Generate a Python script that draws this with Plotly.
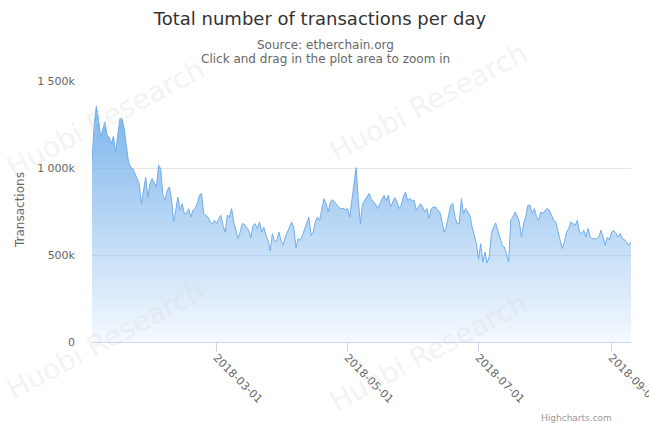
import pandas as pd
import plotly.graph_objects as go

# ---------------- data (daily transactions, thousands) ----------------
start_date = "2018-01-02"
seg_jan_feb = [1040, 1245, 1354, 1284, 1178, 1228, 1264, 1188, 1178, 1140, 1184, 1092, 1207,
               1284, 1284, 1226, 1130, 1034, 1006, 996, 968, 939, 910, 795, 862, 948, 833,
               910, 939, 910, 891, 1015, 996, 843, 814, 872, 891, 824, 690, 757, 833, 757,
               795, 738, 738, 767, 718, 757, 767, 795, 843, 853]
seg_feb_apr = [738, 728, 718, 690, 680, 699, 680, 709, 728, 670, 632, 728, 718, 767, 690, 642,
               594, 632, 680, 676, 661, 642, 600, 670, 680, 651, 690, 632, 661, 613, 584, 523,
               623, 579, 579, 632, 584, 556, 603, 632, 661, 690, 651, 542, 594, 584, 613, 651]
seg_apr_may = [680, 718, 613, 632, 690, 718, 699, 767, 824, 795, 747, 805, 818, 805, 786, 772,
               767, 767, 761, 767, 718, 814, 891, 1002, 814, 680, 795, 814, 833, 853, 824, 805,
               795, 767, 795, 824, 843, 814, 843, 776, 805, 830, 805, 767, 786, 833, 862, 814, 824]
seg_jun_jul = [814, 814, 757, 776, 795, 776, 747, 767, 709, 767, 776, 776, 757, 747, 690, 632,
               661, 718, 786, 795, 718, 680, 680, 824, 738, 767, 747, 728, 661, 613, 565, 474,
               565, 460, 517, 454, 489, 623, 661, 684, 642, 603, 556, 546, 498, 460, 699, 718, 747]
seg_jul_sep = [725, 690, 603, 680, 720, 786, 786, 738, 767, 720, 699, 747, 738, 757, 767, 757,
               730, 699, 690, 632, 584, 537, 575, 632, 652, 690, 680, 671, 699, 632, 623, 642,
               603, 652, 603, 594, 594, 594, 603, 642, 603, 556, 603, 588, 632, 640, 623, 603,
               623, 594, 588, 575, 556, 575]

values_k = seg_jan_feb + seg_feb_apr + seg_apr_may + seg_jun_jul + seg_jul_sep
values = [v * 1000 for v in values_k]
dates = pd.date_range(start_date, periods=len(values), freq="D")

x_tick_dates = ["2018-03-01", "2018-05-01", "2018-07-01", "2018-09-01"]
y_tick_vals = [0, 500000, 1000000, 1500000]
y_tick_text = ["0", "500k", "1 000k", "1 500k"]

title_text = "Total number of transactions per day"
subtitle_1 = "Source: etherchain.org"
subtitle_2 = "Click and drag in the plot area to zoom in"
y_title = "Transactions"
credits = "Highcharts.com"
watermark = "Huobi Research"

# ---------------- layout geometry ----------------
W, H = 649, 423
ML, MR, MT, MB = 92, 18, 81, 81
PW, PH = W - ML - MR, H - MT - MB
FONT = "DejaVu Sans"


def px(xp):
    return (xp - ML) / PW


def py(yp):
    return (H - MB - yp) / PH


fig = go.Figure()
fig.add_trace(go.Scatter(
    x=dates, y=values, mode="lines",
    line=dict(color="#72ade8", width=1),
    fill="tozeroy",
    fillgradient=dict(type="vertical",
                      colorscale=[[0, "rgba(124,181,236,0.08)"], [1, "rgba(124,181,236,1)"]],
                      start=0, stop=max(values)),
    hoverinfo="skip", showlegend=False,
))


def note(text, xp, yp, size, color, angle=0, xanchor="center", family=FONT):
    return dict(text=text, x=px(xp), y=py(yp), xref="paper", yref="paper",
                xanchor=xanchor, yanchor="middle", textangle=angle, showarrow=False,
                font=dict(family=family, size=size, color=color))


annotations = [note(watermark, cx, cy, 28, "rgba(215,215,215,0.3)", angle=-28)
               for cx, cy in [(105, 118), (428, 102), (105, 340), (428, 352)]]
annotations += [
    note(subtitle_1, 325, 45, 12, "#666666"),
    note(subtitle_2, 325, 59, 12, "#666666"),
    note(y_title, 20, 210, 12, "#666666", angle=-90),
    note(credits, 614, 418, 9, "#999999", xanchor="right"),
]

fig.update_layout(
    width=W, height=H, autosize=False,
    margin=dict(l=ML, r=MR, t=MT, b=MB, autoexpand=False),
    paper_bgcolor="white", plot_bgcolor="white",
    font=dict(family=FONT, color="#666666"),
    title=dict(text=title_text, x=0.493, xref="container", xanchor="center",
               y=1 - 19 / H, yref="container", yanchor="middle",
               font=dict(family=FONT, size=18, color="#333333")),
    annotations=annotations,
    xaxis=dict(
        type="date",
        range=[dates[0], dates[-1]],
        tickvals=x_tick_dates, tickformat="%Y-%m-%d", tickangle=45,
        tickfont=dict(family=FONT, size=11, color="#666666"),
        ticklabeloverflow="allow", automargin=False,
        ticklabelstandoff=-5,
        showgrid=False, zeroline=False,
        showline=True, linecolor="#ccd6eb", linewidth=1,
        ticks="outside", ticklen=9, tickcolor="#ccd6eb",
        fixedrange=True,
    ),
    yaxis=dict(
        range=[0, 1500000],
        tickvals=y_tick_vals, ticktext=y_tick_text,
        tickfont=dict(family=FONT, size=11, color="#666666"),
        showgrid=True, gridcolor="#e6e6e6", gridwidth=1,
        zeroline=False, showline=False, ticks="", automargin=False,
        ticklabelstandoff=16,
        fixedrange=True,
    ),
)

fig.write_html("out.html", config={"displayModeBar": False},
               post_script="document.body.style.margin='0px';document.body.style.overflow='hidden';")
